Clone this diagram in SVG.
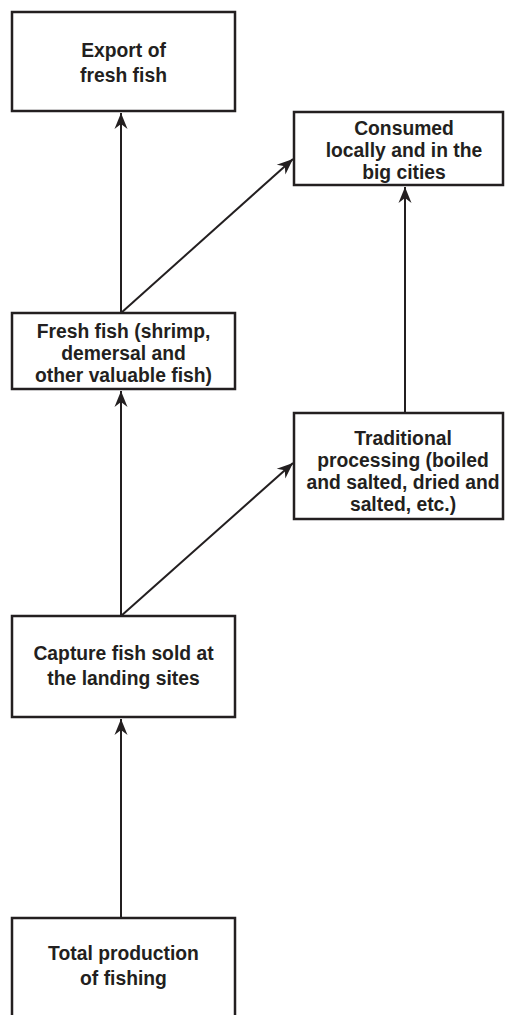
<svg xmlns="http://www.w3.org/2000/svg" width="505" height="1015" viewBox="0 0 505 1015">
<style>
.box{fill:#fff;stroke:#231f20;stroke-width:2.5}
.lbl{font-family:"Liberation Sans",Arial,sans-serif;font-weight:bold;font-size:21px;fill:#231f20;text-anchor:middle}
.con{stroke:#231f20;stroke-width:2;fill:none}
</style>
<defs>
<marker id="ah" markerUnits="userSpaceOnUse" markerWidth="18" markerHeight="16" viewBox="-16 -8 18 16" refX="0" refY="0" orient="auto">
<path d="M0,0 L-16,-6.5 L-11,0 L-16,6.5 Z" fill="#231f20"/>
</marker>
</defs>
<rect width="505" height="1015" fill="#fff"/>
<g id="connectors">
<path class="con" d="M121,313 L121,113" marker-end="url(#ah)"/>
<path class="con" d="M121,313 L293,159" marker-end="url(#ah)"/>
<path class="con" d="M121,616 L121,391" marker-end="url(#ah)"/>
<path class="con" d="M121,616 L293,463" marker-end="url(#ah)"/>
<path class="con" d="M405,413 L405,187" marker-end="url(#ah)"/>
<path class="con" d="M121,918 L121,719" marker-end="url(#ah)"/>
</g>
<g id="export">
<rect class="box" x="12" y="12" width="223" height="99"/>
<g transform="translate(123.5 0) scale(0.92 1)">
<text class="lbl" x="0" y="57">Export of</text>
<text class="lbl" x="0" y="82">fresh fish</text>
</g>
</g>
<g id="consumed">
<rect class="box" x="294" y="112" width="209" height="73"/>
<g transform="translate(404 0) scale(0.92 1)">
<text class="lbl" x="0" y="135">Consumed</text>
<text class="lbl" x="0" y="157">locally and in the</text>
<text class="lbl" x="0" y="179">big cities</text>
</g>
</g>
<g id="fresh">
<rect class="box" x="12" y="313" width="223" height="76"/>
<g transform="translate(123.5 0) scale(0.92 1)">
<text class="lbl" x="0" y="338">Fresh fish (shrimp,</text>
<text class="lbl" x="0" y="360">demersal and</text>
<text class="lbl" x="0" y="382">other valuable fish)</text>
</g>
</g>
<g id="traditional">
<rect class="box" x="294" y="413" width="209" height="106"/>
<g transform="translate(403 0) scale(0.92 1)">
<text class="lbl" x="0" y="445">Traditional</text>
<text class="lbl" x="0" y="467">processing (boiled</text>
<text class="lbl" x="0" y="489">and salted, dried and</text>
<text class="lbl" x="0" y="511">salted, etc.)</text>
</g>
</g>
<g id="capture">
<rect class="box" x="12" y="616" width="223" height="101"/>
<g transform="translate(123.5 0) scale(0.92 1)">
<text class="lbl" x="0" y="660">Capture fish sold at</text>
<text class="lbl" x="0" y="685">the landing sites</text>
</g>
</g>
<g id="total">
<rect class="box" x="12" y="918" width="223" height="120"/>
<g transform="translate(123.5 0) scale(0.92 1)">
<text class="lbl" x="0" y="960">Total production</text>
<text class="lbl" x="0" y="985">of fishing</text>
</g>
</g>
</svg>
